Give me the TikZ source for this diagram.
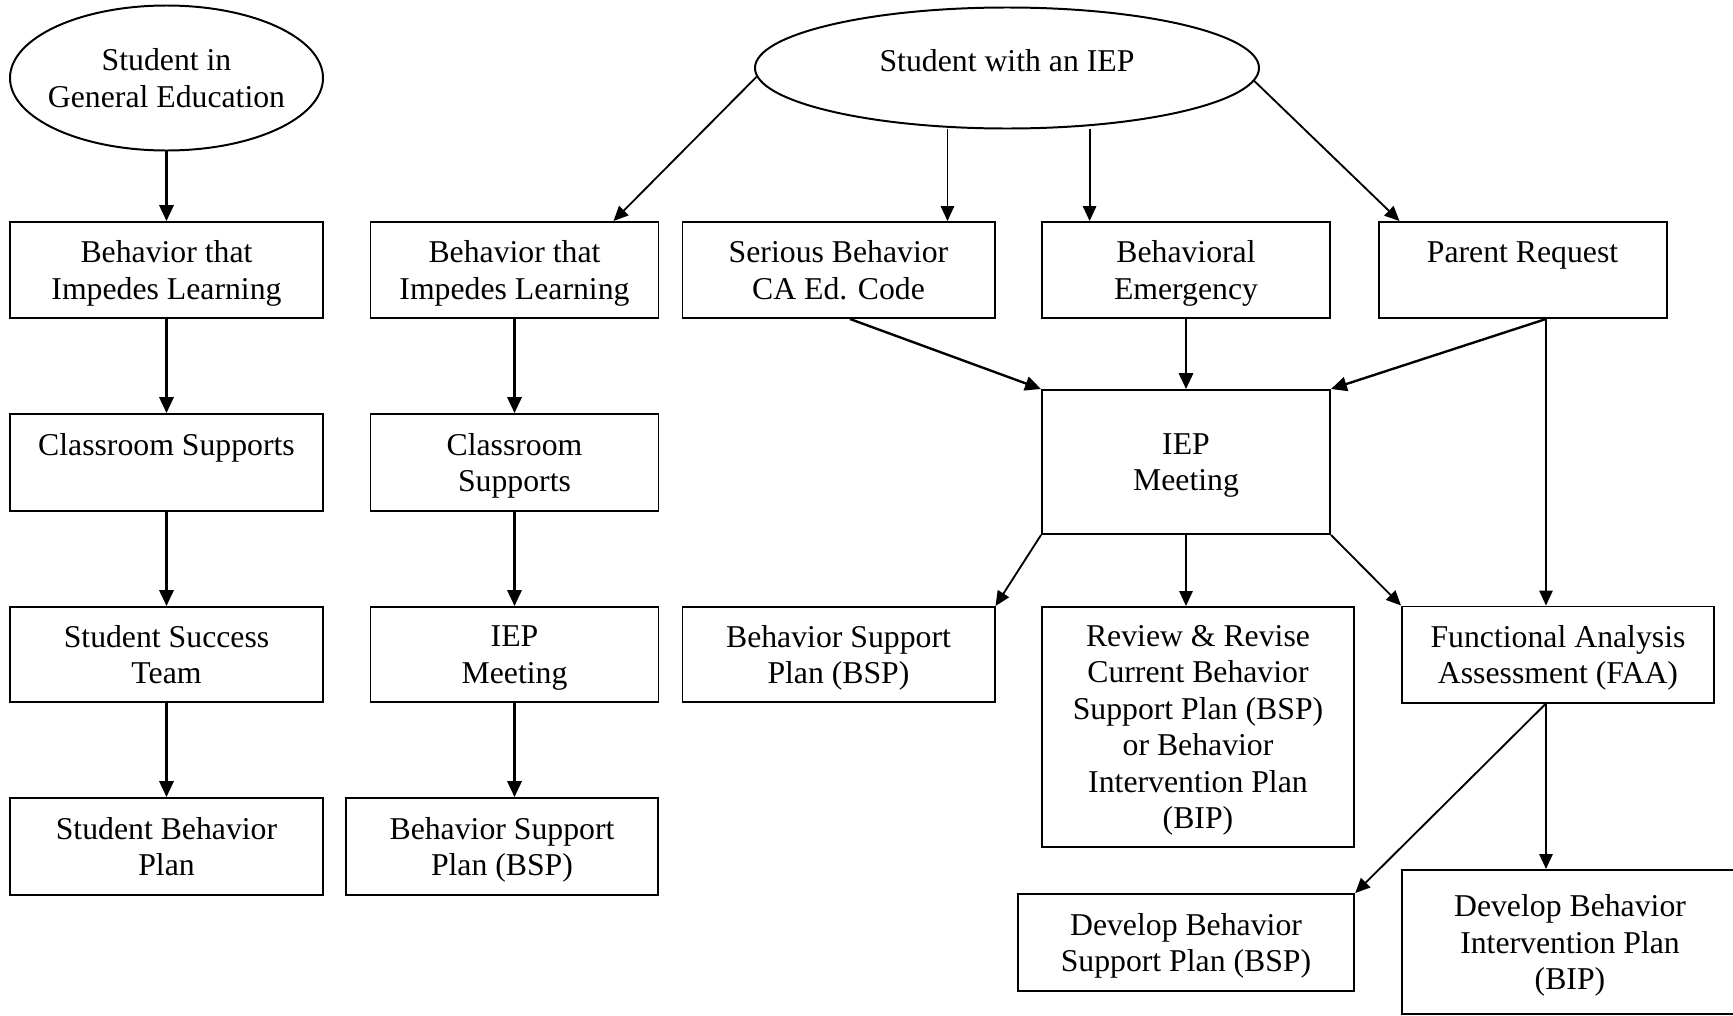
\documentclass[tikz,border=0pt]{standalone}
\usepackage{fontspec}
\setmainfont{Liberation Serif}
\usetikzlibrary{shapes.geometric}
\usetikzlibrary{arrows.meta}
\usetikzlibrary{calc}

\tikzset{
  box/.style={shape=rectangle,draw,line width=0.75pt,inner sep=0pt,align=center,font=\fontsize{12}{13.8}\selectfont,text depth=-0.8pt},
  oval/.style={shape=ellipse,draw,line width=0.75pt,inner sep=0pt,align=center,font=\fontsize{12}{13.8}\selectfont},
  sz/.style 2 args={minimum width=#1*0.378pt,minimum height=#2*0.378pt},
  arr/.style={line width=0.7pt,-{Triangle[length=5.6pt,width=5pt]}},
  bold arr/.style={line width=0.9pt,-{Triangle[length=6pt,width=5.4pt]}}
}

\begin{document}
\begin{tikzpicture}[x=0.378pt,y=-0.378pt]
\useasboundingbox (0,0) rectangle (1733,1016);
\draw (166.5,78) node (gen) [oval,sz={313}{145},inner xsep=-3.2pt] {Student in\\General Education};
\draw (166.5,270) node (g1) [box,sz={313}{96}] {Behavior that\\Impedes Learning};
\draw (166.5,462.5) node (g2) [box,sz={313}{97}] {Classroom Supports\\\mbox{}};
\draw (166.5,654.5) node (g3) [box,sz={313}{95}] {Student Success\\Team};
\draw (166.5,846.5) node (g4) [box,sz={313}{97}] {Student Behavior\\Plan};
\draw[bold arr] (gen.south) -- (g1.north);
\draw[bold arr] (g1.south) -- (g2.north);
\draw[bold arr] (g2.south) -- (g3.north);
\draw[bold arr] (g3.south) -- (g4.north);

\draw (1007,68) node (iep) [oval,sz={504}{121},text depth=6pt] {Student with an IEP};
\draw (514.5,270) node (s1) [box,sz={288}{96}] {Behavior that\\Impedes Learning};
\draw (514.5,462.5) node (s2) [box,sz={288}{97}] {Classroom\\Supports};
\draw (514.5,654.5) node (s3) [box,sz={288}{95}] {IEP\\Meeting};
\draw (502,846.5) node (s4) [box,sz={312.5}{97}] {Behavior Support\\Plan (BSP)};
\draw[arr] (iep.182.5) -- ($(s1.north east)+(-46,0)$);
\draw[bold arr] (s1.south) -- (s2.north);
\draw[bold arr] (s2.south) -- (s3.north);
\draw[bold arr] (s3.south) -- (s3.south |- s4.north);

\draw (838.5,270) node (ser) [box,sz={312}{96}] {Serious Behavior\\CA Ed. Code};
\draw (1186,270) node (emg) [box,sz={288}{96}] {Behavioral\\Emergency};
\draw (1522.5,270) node (par) [box,sz={288}{96}] {Parent Request\\\mbox{}};
\draw (1186,462) node (mtg) [box,sz={288}{144}] {IEP\\Meeting};
\draw (838.5,654.5) node (bsp) [box,sz={312}{95}] {Behavior Support\\Plan (BSP)};
\draw (1198,727) node (rev) [box,sz={312.5}{240}] {Review \& Revise\\Current Behavior\\Support Plan (BSP)\\or Behavior\\Intervention Plan\\(BIP)};
\draw (1558,654.5) node (faa) [box,sz={312}{96}] {Functional Analysis\\Assessment (FAA)};
\draw (1186,942.5) node (dbsp) [box,sz={336.5}{97}] {Develop Behavior\\Support Plan (BSP)};
\draw (1570,942) node (dbip) [box,sz={336}{144}] {Develop Behavior\\Intervention Plan\\(BIP)};

\coordinate (serIn) at ($(ser.north east)+(-48,0)$);
\coordinate (emgIn) at ($(emg.north west)+(48.6,0)$);
\coordinate (parOut) at ($(par.south)+(23.5,0)$);
\coordinate (faaOut) at ($(faa.south)+(-12,0)$);
\draw[arr] (iep.south -| serIn) -- (serIn);
\draw[arr] (iep.south -| emgIn) -- (emgIn);
\draw[arr] (iep.357.5) -- ($(par.north west)+(22,0)$);
\draw[bold arr] ($(ser.south)+(11.5,0)$) -- (mtg.north west);
\draw[bold arr] (emg.south) -- (mtg.north);
\draw[bold arr] (parOut) -- (mtg.north east);
\draw[arr] (parOut) -- (parOut |- faa.north);
\draw[arr] (mtg.south west) -- (bsp.north east);
\draw[arr] (mtg.south) -- (mtg.south |- rev.north);
\draw[arr] (mtg.south east) -- (faa.north west);
\draw[arr] (faaOut) -- (dbsp.north east);
\draw[arr] (faaOut) -- (faaOut |- dbip.north);
\end{tikzpicture}
\end{document}
